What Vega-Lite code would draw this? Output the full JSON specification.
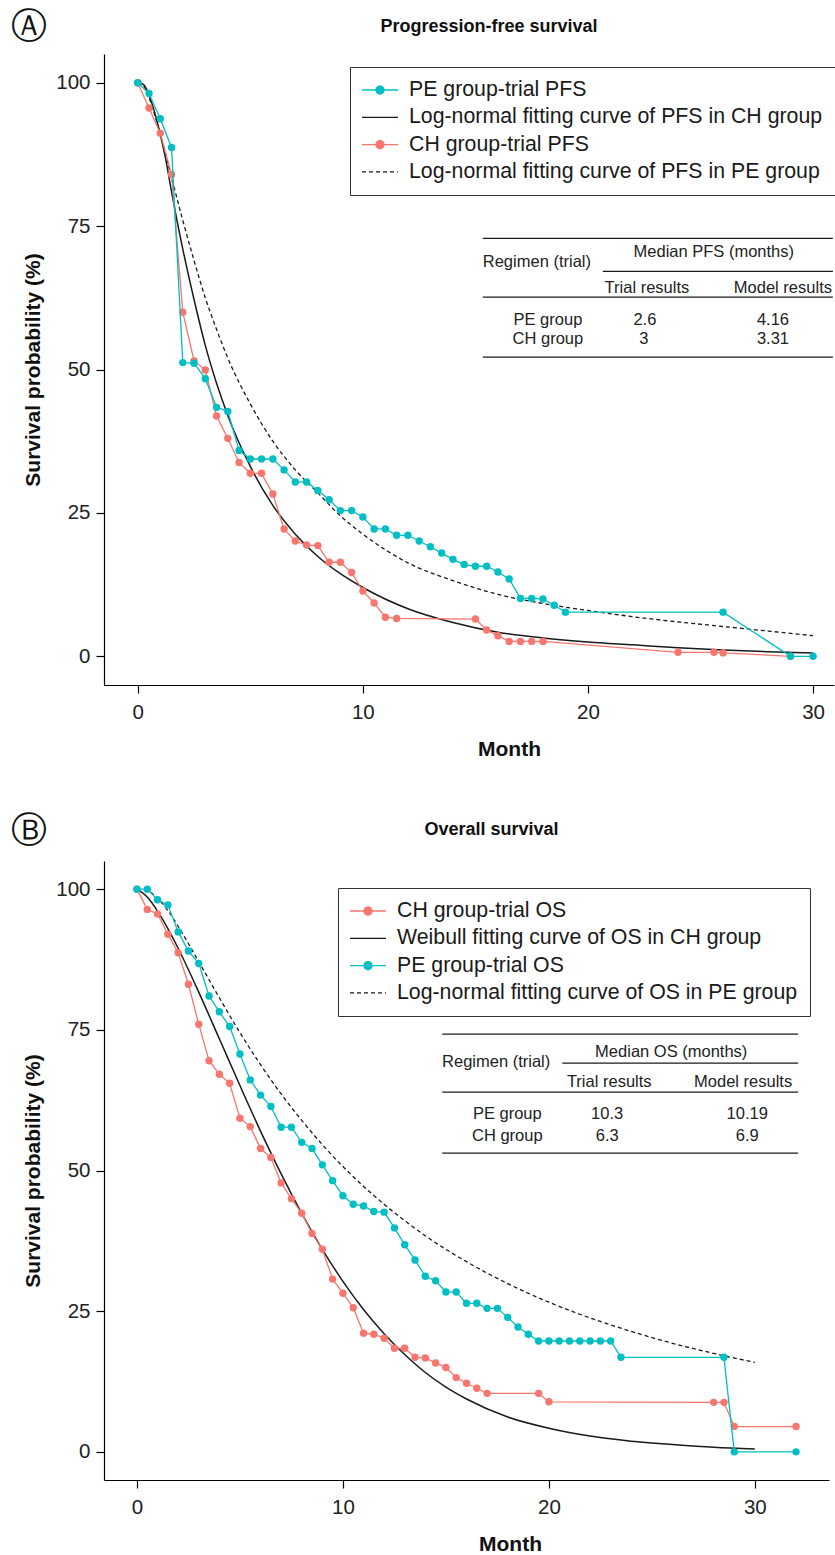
{
  "$schema": "https://vega.github.io/schema/vega-lite/v6.json",
  "background": "white",
  "padding": {"left": 10, "top": 9, "right": 0, "bottom": 0},
  "config": {
    "view": {"stroke": null},
    "font": "Liberation Sans",
    "axis": {
      "domainColor": "#000", "domainWidth": 1.2, "tickColor": "#000", "tickWidth": 1.2, "tickSize": 8,
      "labelFont": "Liberation Sans", "labelFontSize": 20.5, "labelColor": "#222", "labelPadding": 6,
      "titleFont": "Liberation Sans", "titleFontSize": 21, "titleFontWeight": "bold", "titleColor": "#111",
      "grid": false
    },
    "axisX": {"labelPadding": 9},
    "legend": {
      "orient": "none", "padding": 12, "strokeColor": "#333", "fillColor": "white",
      "labelFont": "Liberation Sans", "labelFontSize": 21.3, "labelColor": "#1a1a1a", "labelLimit": 600,
      "symbolSize": 400, "symbolStrokeWidth": 1.3, "labelOffset": 25, "rowPadding": 5.3,
      "symbolOpacity": 1, "symbolFillColor": "transparent"
    }
  },
  "datasets": {
    "pfsPE": [
      {"month":0,"surv":100},{"month":0.5,"surv":98.1},{"month":1,"surv":93.7},{"month":1.5,"surv":88.7},{"month":2,"surv":51.2},{"month":2.5,"surv":51.1},{"month":3,"surv":48.4},{"month":3.5,"surv":43.4},{"month":4,"surv":42.7},{"month":4.5,"surv":35.9},{"month":5,"surv":34.4},{"month":5.5,"surv":34.4},{"month":6,"surv":34.4},{"month":6.5,"surv":32.5},{"month":7,"surv":30.4},{"month":7.5,"surv":30.4},{"month":8,"surv":28.9},{"month":8.5,"surv":27.3},{"month":9,"surv":25.4},{"month":9.5,"surv":25.4},{"month":10,"surv":24.3},{"month":10.5,"surv":22.2},{"month":11,"surv":22.2},{"month":11.5,"surv":21.1},{"month":12,"surv":21.1},{"month":12.5,"surv":20.1},{"month":13,"surv":19.1},{"month":13.5,"surv":18.0},{"month":14,"surv":16.9},{"month":14.5,"surv":16.0},{"month":15,"surv":15.7},{"month":15.5,"surv":15.7},{"month":16,"surv":14.7},{"month":16.5,"surv":13.5},{"month":17,"surv":10.1},{"month":17.5,"surv":10.1},{"month":18,"surv":10.0},{"month":18.5,"surv":8.9},{"month":19,"surv":7.7},{"month":26,"surv":7.7},{"month":29,"surv":0},{"month":30,"surv":0}
    ],
    "pfsCH": [
      {"month":0,"surv":100},{"month":0.5,"surv":95.6},{"month":1,"surv":91.2},{"month":1.5,"surv":84.0},{"month":2,"surv":60.0},{"month":2.5,"surv":51.5},{"month":3,"surv":49.9},{"month":3.5,"surv":41.9},{"month":4,"surv":38.0},{"month":4.5,"surv":33.8},{"month":5,"surv":31.9},{"month":5.5,"surv":31.9},{"month":6,"surv":28.3},{"month":6.5,"surv":22.2},{"month":7,"surv":20.1},{"month":7.5,"surv":19.4},{"month":8,"surv":19.3},{"month":8.5,"surv":16.4},{"month":9,"surv":16.4},{"month":9.5,"surv":14.6},{"month":10,"surv":11.4},{"month":10.5,"surv":9.3},{"month":11,"surv":6.8},{"month":11.5,"surv":6.6},{"month":15,"surv":6.5},{"month":15.5,"surv":4.6},{"month":16,"surv":3.6},{"month":16.5,"surv":2.6},{"month":17,"surv":2.6},{"month":17.5,"surv":2.6},{"month":18,"surv":2.6},{"month":24,"surv":0.7},{"month":25.6,"surv":0.7},{"month":26,"surv":0.6},{"month":29,"surv":0}
    ],
    "pfsFitCH": [
      {"month":0,"surv":100},{"month":0.25,"surv":99.7},{"month":0.5,"surv":97.8},{"month":0.75,"surv":94.8},{"month":1,"surv":91.0},{"month":1.25,"surv":86.5},{"month":1.5,"surv":81.0},{"month":1.75,"surv":75.8},{"month":2,"surv":71.0},{"month":2.5,"surv":62.2},{"month":3,"surv":54.2},{"month":3.5,"surv":47.6},{"month":4,"surv":42.0},{"month":5,"surv":33.1},{"month":6,"surv":26.3},{"month":7,"surv":21.3},{"month":8,"surv":17.4},{"month":9,"surv":14.4},{"month":10,"surv":12.0},{"month":12,"surv":8.3},{"month":14,"surv":5.9},{"month":16,"surv":4.2},{"month":18,"surv":3.2},{"month":20,"surv":2.5},{"month":22,"surv":2.0},{"month":24,"surv":1.5},{"month":26,"surv":1.1},{"month":28,"surv":0.8},{"month":30,"surv":0.6}
    ],
    "pfsFitPE": [
      {"month":0,"surv":100},{"month":0.25,"surv":99.5},{"month":0.5,"surv":97.4},{"month":0.75,"surv":94.4},{"month":1,"surv":91.0},{"month":1.5,"surv":83.5},{"month":2,"surv":76.0},{"month":2.5,"surv":69.0},{"month":3,"surv":62.5},{"month":3.5,"surv":57.0},{"month":4,"surv":52.0},{"month":5,"surv":44.0},{"month":6,"surv":37.5},{"month":7,"surv":32.5},{"month":8,"surv":28.5},{"month":9,"surv":24.5},{"month":10,"surv":21.3},{"month":12,"surv":16.3},{"month":14,"surv":13.2},{"month":16,"surv":10.8},{"month":18,"surv":9.2},{"month":20,"surv":8.0},{"month":22,"surv":6.9},{"month":24,"surv":6.0},{"month":26,"surv":5.2},{"month":28,"surv":4.4},{"month":30,"surv":3.6}
    ],
    "osPE": [
      {"month":0,"surv":100},{"month":0.5,"surv":100},{"month":1,"surv":98.1},{"month":1.5,"surv":97.2},{"month":2,"surv":92.4},{"month":2.5,"surv":89.0},{"month":3,"surv":86.8},{"month":3.5,"surv":81.0},{"month":4,"surv":78.2},{"month":4.5,"surv":75.6},{"month":5,"surv":70.7},{"month":5.5,"surv":66.1},{"month":6,"surv":63.4},{"month":6.5,"surv":61.4},{"month":7,"surv":57.7},{"month":7.5,"surv":57.7},{"month":8,"surv":55.0},{"month":8.5,"surv":53.9},{"month":9,"surv":51.0},{"month":9.5,"surv":48.2},{"month":10,"surv":45.5},{"month":10.5,"surv":44.0},{"month":11,"surv":43.7},{"month":11.5,"surv":42.7},{"month":12,"surv":42.6},{"month":12.5,"surv":39.8},{"month":13,"surv":36.8},{"month":13.5,"surv":34.1},{"month":14,"surv":31.2},{"month":14.5,"surv":30.4},{"month":15,"surv":28.4},{"month":15.5,"surv":28.4},{"month":16,"surv":26.4},{"month":16.5,"surv":26.4},{"month":17,"surv":25.5},{"month":17.5,"surv":25.5},{"month":18,"surv":23.9},{"month":18.5,"surv":22.2},{"month":19,"surv":20.9},{"month":19.5,"surv":19.7},{"month":20,"surv":19.7},{"month":20.5,"surv":19.7},{"month":21,"surv":19.7},{"month":21.5,"surv":19.7},{"month":22,"surv":19.7},{"month":22.5,"surv":19.7},{"month":23,"surv":19.7},{"month":23.5,"surv":16.8},{"month":28.5,"surv":16.8},{"month":29,"surv":0},{"month":32,"surv":0}
    ],
    "osCH": [
      {"month":0,"surv":100},{"month":0.5,"surv":96.4},{"month":1,"surv":95.6},{"month":1.5,"surv":92.0},{"month":2,"surv":88.7},{"month":2.5,"surv":83.1},{"month":3,"surv":76.0},{"month":3.5,"surv":69.5},{"month":4,"surv":67.1},{"month":4.5,"surv":65.5},{"month":5,"surv":59.3},{"month":5.5,"surv":57.8},{"month":6,"surv":53.9},{"month":6.5,"surv":52.3},{"month":7,"surv":47.8},{"month":7.5,"surv":45.0},{"month":8,"surv":42.4},{"month":8.5,"surv":38.8},{"month":9,"surv":36.0},{"month":9.5,"surv":30.7},{"month":10,"surv":28.2},{"month":10.5,"surv":25.6},{"month":11,"surv":21.1},{"month":11.5,"surv":20.9},{"month":12,"surv":20.2},{"month":12.5,"surv":18.4},{"month":13,"surv":18.4},{"month":13.5,"surv":16.8},{"month":14,"surv":16.7},{"month":14.5,"surv":15.8},{"month":15,"surv":15.0},{"month":15.5,"surv":13.2},{"month":16,"surv":12.2},{"month":16.5,"surv":11.3},{"month":17,"surv":10.4},{"month":19.5,"surv":10.4},{"month":20,"surv":8.9},{"month":28,"surv":8.8},{"month":28.5,"surv":8.8},{"month":29,"surv":4.5},{"month":32,"surv":4.5}
    ],
    "osFitCH": [
      {"month":0,"surv":100},{"month":0.5,"surv":98.6},{"month":1,"surv":96.1},{"month":1.5,"surv":93.0},{"month":2,"surv":89.5},{"month":3,"surv":81.7},{"month":4,"surv":73.4},{"month":5,"surv":65.1},{"month":6,"surv":57.0},{"month":7,"surv":49.4},{"month":8,"surv":42.4},{"month":9,"surv":36.0},{"month":10,"surv":30.3},{"month":11,"surv":25.3},{"month":12,"surv":21.0},{"month":13,"surv":17.3},{"month":14,"surv":14.1},{"month":15,"surv":11.5},{"month":16,"surv":9.4},{"month":18,"surv":6.2},{"month":20,"surv":4.2},{"month":22,"surv":2.8},{"month":24,"surv":1.9},{"month":26,"surv":1.3},{"month":28,"surv":0.8},{"month":30,"surv":0.5}
    ],
    "osFitPE": [
      {"month":0,"surv":100},{"month":0.5,"surv":99.7},{"month":1,"surv":98.4},{"month":1.5,"surv":96.2},{"month":2,"surv":93.4},{"month":3,"surv":87.1},{"month":4,"surv":80.7},{"month":5,"surv":74.5},{"month":6,"surv":68.8},{"month":7,"surv":63.6},{"month":8,"surv":58.9},{"month":9,"surv":54.6},{"month":10,"surv":50.7},{"month":12,"surv":44.0},{"month":14,"surv":38.4},{"month":16,"surv":33.8},{"month":18,"surv":29.9},{"month":20,"surv":26.6},{"month":22,"surv":23.8},{"month":24,"surv":21.4},{"month":26,"surv":19.3},{"month":28,"surv":17.5},{"month":30,"surv":15.9}
    ],
    "tabA": [
      {"label":"Median PFS (months)","month":25.59,"surv":70.44},
      {"label":"Regimen (trial)","month":17.73,"surv":68.69},
      {"label":"Trial results","month":22.62,"surv":64.17},
      {"label":"Model results","month":28.66,"surv":64.17},
      {"label":"PE group","month":18.22,"surv":58.59},
      {"label":"2.6","month":22.53,"surv":58.59},
      {"label":"4.16","month":28.22,"surv":58.59},
      {"label":"CH group","month":18.22,"surv":55.28},
      {"label":"3","month":22.48,"surv":55.28},
      {"label":"3.31","month":28.22,"surv":55.28}
    ],
    "rulesA": [
      {"month":15.33,"month2":30.88,"surv":72.87},
      {"month":20.66,"month2":30.88,"surv":67.12},
      {"month":15.33,"month2":30.88,"surv":62.6},
      {"month":15.33,"month2":30.88,"surv":52.14}
    ],
    "tabB": [
      {"label":"Median OS (months)","month":25.94,"surv":71.04},
      {"label":"Regimen (trial)","month":17.44,"surv":69.26},
      {"label":"Trial results","month":22.93,"surv":65.71},
      {"label":"Model results","month":29.43,"surv":65.71},
      {"label":"PE group","month":17.98,"surv":60.02},
      {"label":"10.3","month":22.83,"surv":60.02},
      {"label":"10.19","month":29.63,"surv":60.02},
      {"label":"CH group","month":17.98,"surv":56.1},
      {"label":"6.3","month":22.83,"surv":56.1},
      {"label":"6.9","month":29.63,"surv":56.1}
    ],
    "rulesB": [
      {"month":14.82,"month2":32.1,"surv":74.24},
      {"month":20.65,"month2":32.1,"surv":69.08},
      {"month":14.82,"month2":32.1,"surv":63.93},
      {"month":14.82,"month2":32.1,"surv":53.08}
    ],
    "legA": [
      {"s":"PE group-trial PFS"},
      {"s":"Log-normal fitting curve of PFS in CH group"},
      {"s":"CH group-trial PFS"},
      {"s":"Log-normal fitting curve of PFS in PE group"}
    ],
    "legB": [
      {"t":"CH group-trial OS"},
      {"t":"Weibull fitting curve of OS in CH group"},
      {"t":"PE group-trial OS"},
      {"t":"Log-normal fitting curve of OS in PE group"}
    ]
  },
  "resolve": {
    "scale": {"fill": "independent", "stroke": "independent", "shape": "independent", "strokeDash": "independent"},
    "legend": {"fill": "independent", "stroke": "independent", "shape": "independent", "strokeDash": "independent"}
  },
  "spacing": 53,
  "vconcat": [
    {
      "title": {"text": "Ⓐ", "anchor": "start", "frame": "bounds", "font": "DejaVu Sans", "fontSize": 36, "fontWeight": "normal", "color": "#111", "dy": 28, "dx": -12, "offset": 0},
      "vconcat": [
        {
          "width": 730,
          "height": 631,
          "title": {"text": "Progression-free survival", "font": "Liberation Sans", "fontSize": 18, "fontWeight": "bold", "color": "#111", "anchor": "middle", "frame": "group", "dx": 20, "offset": 17.6},
          "layer": [
            {
              "data": {"name": "rulesA"},
              "mark": {"type": "rule", "color": "#1a1a1a", "strokeWidth": 1.3},
              "encoding": {
                "x": {"field": "month", "type": "quantitative", "scale": {"domain": [-1.5, 30.93], "nice": false, "zero": false},
                      "axis": {"values": [0, 10, 20, 30], "title": "Month", "titleX": 405, "titlePadding": 16}},
                "x2": {"field": "month2"},
                "y": {"field": "surv", "type": "quantitative", "scale": {"domain": [-5, 105], "nice": false, "zero": false},
                      "axis": {"values": [0, 25, 50, 75, 100], "title": "Survival probability (%)", "titlePadding": 12}}
              }
            },
            {
              "data": {"name": "tabA"},
              "mark": {"type": "text", "fontSize": 16.5, "color": "#222", "font": "Liberation Sans", "align": "center", "baseline": "middle"},
              "encoding": {
                "x": {"field": "month", "type": "quantitative", "scale": {"domain": [-1.5, 30.93], "nice": false, "zero": false}},
                "y": {"field": "surv", "type": "quantitative", "scale": {"domain": [-5, 105], "nice": false, "zero": false}},
                "text": {"field": "label"}
              }
            },
            {
              "data": {"name": "pfsFitPE"},
              "mark": {"type": "line", "color": "#1a1a1a", "strokeWidth": 1.3, "strokeDash": [4, 3], "interpolate": "monotone"},
              "encoding": {
                "x": {"field": "month", "type": "quantitative", "scale": {"domain": [-1.5, 30.93], "nice": false, "zero": false}},
                "y": {"field": "surv", "type": "quantitative", "scale": {"domain": [-5, 105], "nice": false, "zero": false}}
              }
            },
            {
              "data": {"name": "pfsFitCH"},
              "mark": {"type": "line", "color": "#1a1a1a", "strokeWidth": 1.5, "interpolate": "monotone"},
              "encoding": {
                "x": {"field": "month", "type": "quantitative", "scale": {"domain": [-1.5, 30.93], "nice": false, "zero": false}},
                "y": {"field": "surv", "type": "quantitative", "scale": {"domain": [-5, 105], "nice": false, "zero": false}}
              }
            },
            {
              "data": {"name": "pfsCH"},
              "mark": {"type": "line", "color": "#F8766D", "strokeWidth": 1.3},
              "encoding": {
                "x": {"field": "month", "type": "quantitative", "scale": {"domain": [-1.5, 30.93], "nice": false, "zero": false}},
                "y": {"field": "surv", "type": "quantitative", "scale": {"domain": [-5, 105], "nice": false, "zero": false}}
              }
            },
            {
              "data": {"name": "pfsCH"},
              "mark": {"type": "point", "filled": true, "size": 55, "color": "#F8766D", "opacity": 1},
              "encoding": {
                "x": {"field": "month", "type": "quantitative", "scale": {"domain": [-1.5, 30.93], "nice": false, "zero": false}},
                "y": {"field": "surv", "type": "quantitative", "scale": {"domain": [-5, 105], "nice": false, "zero": false}}
              }
            },
            {
              "data": {"name": "pfsPE"},
              "mark": {"type": "line", "color": "#00BFC4", "strokeWidth": 1.3},
              "encoding": {
                "x": {"field": "month", "type": "quantitative", "scale": {"domain": [-1.5, 30.93], "nice": false, "zero": false}},
                "y": {"field": "surv", "type": "quantitative", "scale": {"domain": [-5, 105], "nice": false, "zero": false}}
              }
            },
            {
              "data": {"name": "pfsPE"},
              "mark": {"type": "point", "filled": true, "size": 55, "color": "#00BFC4", "opacity": 1},
              "encoding": {
                "x": {"field": "month", "type": "quantitative", "scale": {"domain": [-1.5, 30.93], "nice": false, "zero": false}},
                "y": {"field": "surv", "type": "quantitative", "scale": {"domain": [-5, 105], "nice": false, "zero": false}}
              }
            },
            {
              "data": {"name": "legA"},
              "mark": {"type": "point", "opacity": 0},
              "encoding": {
                "fill": {"field": "s", "type": "nominal",
                  "scale": {"domain": ["PE group-trial PFS", "Log-normal fitting curve of PFS in CH group", "CH group-trial PFS", "Log-normal fitting curve of PFS in PE group"], "range": ["#00BFC4", "transparent", "#F8766D", "transparent"]},
                  "legend": {"title": null, "legendX": 246, "legendY": 13}},
                "stroke": {"field": "s", "type": "nominal",
                  "scale": {"domain": ["PE group-trial PFS", "Log-normal fitting curve of PFS in CH group", "CH group-trial PFS", "Log-normal fitting curve of PFS in PE group"], "range": ["#00BFC4", "#1a1a1a", "#F8766D", "#1a1a1a"]},
                  "legend": {"title": null, "legendX": 246, "legendY": 13}},
                "shape": {"field": "s", "type": "nominal",
                  "scale": {"domain": ["PE group-trial PFS", "Log-normal fitting curve of PFS in CH group", "CH group-trial PFS", "Log-normal fitting curve of PFS in PE group"], "range": ["M-1.1,0H2.5M0.3,0A0.4,0.4,0,1,0,1.1,0A0.4,0.4,0,1,0,0.3,0Z", "M-1.1,0H2.5", "M-1.1,0H2.5M0.3,0A0.4,0.4,0,1,0,1.1,0A0.4,0.4,0,1,0,0.3,0Z", "M-1.1,0H2.5"]},
                  "legend": {"title": null, "legendX": 246, "legendY": 13}},
                "strokeDash": {"field": "s", "type": "nominal",
                  "scale": {"domain": ["PE group-trial PFS", "Log-normal fitting curve of PFS in CH group", "CH group-trial PFS", "Log-normal fitting curve of PFS in PE group"], "range": [[1, 0], [1, 0], [1, 0], [4, 3]]},
                  "legend": {"title": null, "legendX": 246, "legendY": 13}}
              }
            }
          ]
        }
      ]
    },
    {
      "title": {"text": "Ⓑ", "anchor": "start", "frame": "bounds", "font": "DejaVu Sans", "fontSize": 36, "fontWeight": "normal", "color": "#111", "dy": 29, "dx": -12, "offset": 0},
      "vconcat": [
        {
          "width": 725,
          "height": 619,
          "title": {"text": "Overall survival", "font": "Liberation Sans", "fontSize": 18, "fontWeight": "bold", "color": "#111", "anchor": "middle", "frame": "group", "dx": 25, "offset": 22},
          "layer": [
            {
              "data": {"name": "rulesB"},
              "mark": {"type": "rule", "color": "#1a1a1a", "strokeWidth": 1.3},
              "encoding": {
                "x": {"field": "month", "type": "quantitative", "scale": {"domain": [-1.6, 33.6], "nice": false, "zero": false},
                      "axis": {"values": [0, 10, 20, 30], "title": "Month", "titleX": 406, "titlePadding": 16}},
                "x2": {"field": "month2"},
                "y": {"field": "surv", "type": "quantitative", "scale": {"domain": [-5, 105], "nice": false, "zero": false},
                      "axis": {"values": [0, 25, 50, 75, 100], "title": "Survival probability (%)", "titlePadding": 12}}
              }
            },
            {
              "data": {"name": "tabB"},
              "mark": {"type": "text", "fontSize": 16.5, "color": "#222", "font": "Liberation Sans", "align": "center", "baseline": "middle"},
              "encoding": {
                "x": {"field": "month", "type": "quantitative", "scale": {"domain": [-1.6, 33.6], "nice": false, "zero": false}},
                "y": {"field": "surv", "type": "quantitative", "scale": {"domain": [-5, 105], "nice": false, "zero": false}},
                "text": {"field": "label"}
              }
            },
            {
              "data": {"name": "osFitPE"},
              "mark": {"type": "line", "color": "#1a1a1a", "strokeWidth": 1.3, "strokeDash": [4, 3], "interpolate": "monotone"},
              "encoding": {
                "x": {"field": "month", "type": "quantitative", "scale": {"domain": [-1.6, 33.6], "nice": false, "zero": false}},
                "y": {"field": "surv", "type": "quantitative", "scale": {"domain": [-5, 105], "nice": false, "zero": false}}
              }
            },
            {
              "data": {"name": "osFitCH"},
              "mark": {"type": "line", "color": "#1a1a1a", "strokeWidth": 1.5, "interpolate": "monotone"},
              "encoding": {
                "x": {"field": "month", "type": "quantitative", "scale": {"domain": [-1.6, 33.6], "nice": false, "zero": false}},
                "y": {"field": "surv", "type": "quantitative", "scale": {"domain": [-5, 105], "nice": false, "zero": false}}
              }
            },
            {
              "data": {"name": "osCH"},
              "mark": {"type": "line", "color": "#F8766D", "strokeWidth": 1.3},
              "encoding": {
                "x": {"field": "month", "type": "quantitative", "scale": {"domain": [-1.6, 33.6], "nice": false, "zero": false}},
                "y": {"field": "surv", "type": "quantitative", "scale": {"domain": [-5, 105], "nice": false, "zero": false}}
              }
            },
            {
              "data": {"name": "osCH"},
              "mark": {"type": "point", "filled": true, "size": 55, "color": "#F8766D", "opacity": 1},
              "encoding": {
                "x": {"field": "month", "type": "quantitative", "scale": {"domain": [-1.6, 33.6], "nice": false, "zero": false}},
                "y": {"field": "surv", "type": "quantitative", "scale": {"domain": [-5, 105], "nice": false, "zero": false}}
              }
            },
            {
              "data": {"name": "osPE"},
              "mark": {"type": "line", "color": "#00BFC4", "strokeWidth": 1.3},
              "encoding": {
                "x": {"field": "month", "type": "quantitative", "scale": {"domain": [-1.6, 33.6], "nice": false, "zero": false}},
                "y": {"field": "surv", "type": "quantitative", "scale": {"domain": [-5, 105], "nice": false, "zero": false}}
              }
            },
            {
              "data": {"name": "osPE"},
              "mark": {"type": "point", "filled": true, "size": 55, "color": "#00BFC4", "opacity": 1},
              "encoding": {
                "x": {"field": "month", "type": "quantitative", "scale": {"domain": [-1.6, 33.6], "nice": false, "zero": false}},
                "y": {"field": "surv", "type": "quantitative", "scale": {"domain": [-5, 105], "nice": false, "zero": false}}
              }
            },
            {
              "data": {"name": "legB"},
              "mark": {"type": "point", "opacity": 0},
              "encoding": {
                "fill": {"field": "t", "type": "nominal",
                  "scale": {"domain": ["CH group-trial OS", "Weibull fitting curve of OS in CH group", "PE group-trial OS", "Log-normal fitting curve of OS in PE group"], "range": ["#F8766D", "transparent", "#00BFC4", "transparent"]},
                  "legend": {"title": null, "legendX": 234, "legendY": 27}},
                "stroke": {"field": "t", "type": "nominal",
                  "scale": {"domain": ["CH group-trial OS", "Weibull fitting curve of OS in CH group", "PE group-trial OS", "Log-normal fitting curve of OS in PE group"], "range": ["#F8766D", "#1a1a1a", "#00BFC4", "#1a1a1a"]},
                  "legend": {"title": null, "legendX": 234, "legendY": 27}},
                "shape": {"field": "t", "type": "nominal",
                  "scale": {"domain": ["CH group-trial OS", "Weibull fitting curve of OS in CH group", "PE group-trial OS", "Log-normal fitting curve of OS in PE group"], "range": ["M-1.1,0H2.5M0.3,0A0.4,0.4,0,1,0,1.1,0A0.4,0.4,0,1,0,0.3,0Z", "M-1.1,0H2.5", "M-1.1,0H2.5M0.3,0A0.4,0.4,0,1,0,1.1,0A0.4,0.4,0,1,0,0.3,0Z", "M-1.1,0H2.5"]},
                  "legend": {"title": null, "legendX": 234, "legendY": 27}},
                "strokeDash": {"field": "t", "type": "nominal",
                  "scale": {"domain": ["CH group-trial OS", "Weibull fitting curve of OS in CH group", "PE group-trial OS", "Log-normal fitting curve of OS in PE group"], "range": [[1, 0], [1, 0], [1, 0], [4, 3]]},
                  "legend": {"title": null, "legendX": 234, "legendY": 27}}
              }
            }
          ]
        }
      ]
    }
  ]
}
